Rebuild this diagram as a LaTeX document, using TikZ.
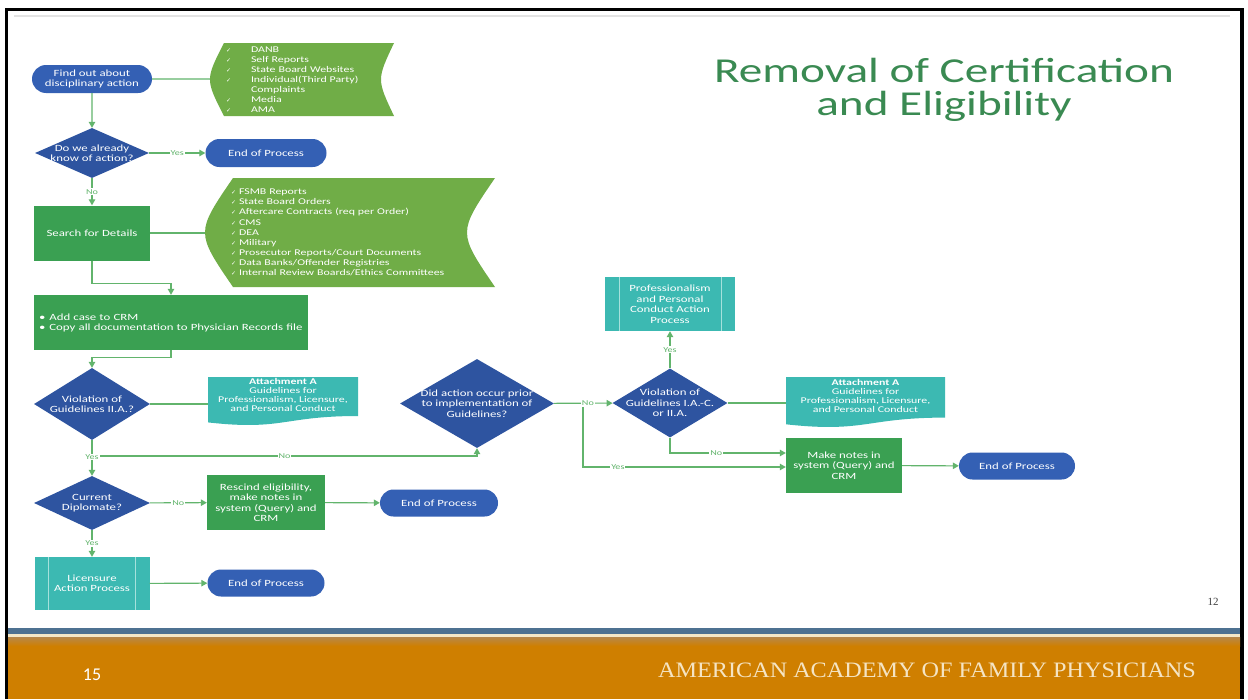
\documentclass[tikz,border=0pt]{standalone}
\usepackage{fontspec}
\setmainfont{Carlito}
\newfontfamily\nodefont{Carlito}[FakeStretch=1.35]
\newfontfamily\ttlfont{Carlito}[FakeStretch=1.35]
\newfontfamily\checkfont{DejaVu Sans}
\newfontfamily\footserif{Liberation Serif}[FakeStretch=1.1]
\newfontfamily\pagefont{Liberation Serif}
\usetikzlibrary{shapes.geometric,shapes.misc,arrows.meta}
\definecolor{dblue}{RGB}{46,84,160}
\definecolor{tblue}{RGB}{52,96,180}
\definecolor{rgreen}{RGB}{58,160,82}
\definecolor{lgreen}{RGB}{112,173,71}
\definecolor{teal1}{RGB}{60,185,178}
\definecolor{tealline}{RGB}{165,225,220}
\definecolor{cgreen}{RGB}{98,180,108}
\definecolor{titlegreen}{RGB}{58,138,82}
\definecolor{orange1}{RGB}{207,127,0}
\definecolor{brown1}{RGB}{185,135,70}
\definecolor{bandblue}{RGB}{78,113,145}
\definecolor{cream}{RGB}{245,232,200}
\definecolor{foottext}{RGB}{245,228,195}
\newcommand{\ck}{\makebox[25pt][l]{\checkfont\fontsize{6}{6}\selectfont ✓}}
\newcommand{\nock}{\makebox[25pt][l]{}}
\newcommand{\cks}{{\checkfont\fontsize{6}{6}\selectfont ✓}\hspace{3pt}}
\begin{document}
\begin{tikzpicture}[x=1pt,y=-1pt,
  txt/.style={font=\nodefont\fontsize{9.5}{10.5}\selectfont, text=white, align=center, inner sep=0pt},
  smalltxt/.style={font=\nodefont\fontsize{8.8}{9}\selectfont, text=white, align=center, inner sep=0pt},
  term/.style={txt, rounded rectangle, fill=tblue, minimum width=118, minimum height=27},
  proc/.style={txt, rectangle, fill=rgreen},
  diam/.style={diamond, fill=dblue, inner sep=0pt},
  pre/.style={txt, rectangle, fill=teal1},
  holder/.style={rectangle, inner sep=0pt},
  conn/.style={draw=cgreen, line width=1.1pt, -{Triangle[length=6pt,width=6.5pt]}},
  link/.style={draw=cgreen, line width=1.1pt},
  lab/.style={font=\nodefont\fontsize{7.5}{8}\selectfont, text=cgreen, fill=white, inner sep=1pt}]
\useasboundingbox (0,0) rectangle (1248,699);
\fill[white] (0,0) rectangle (1248,699);
% frame
\fill[black] (5,8) rectangle (1244,11);
\fill[black] (5,8) rectangle (8,699);
\fill[black] (1240,8) rectangle (1244,699);
\fill[gray!22] (14,15) rectangle (1230,17);
% footer
\fill[bandblue] (8,628) rectangle (1240,634);
\fill[cream] (8,634) rectangle (1240,637.5);
\shade[top color=brown1, bottom color=orange1] (8,637.5) rectangle (1240,646);
\fill[orange1] (8,646) rectangle (1240,699);
\node[font=\fontsize{18}{18}\selectfont, text=white, anchor=base] (pg15) at (92,680) {15};
\node[font=\footserif\fontsize{22}{22}\selectfont, text=foottext, anchor=base] (aafp) at (927,677) {AMERICAN ACADEMY OF FAMILY PHYSICIANS};
\node[font=\pagefont\fontsize{11}{11}\selectfont, text=black!75, anchor=base] (pg12) at (1213,605) {12};
% title
\node[font=\ttlfont\fontsize{35}{36}\selectfont, text=titlegreen, anchor=base] (title1) at (944,82) {Removal of Certification};
\node[font=\ttlfont\fontsize{35}{36}\selectfont, text=titlegreen, anchor=base] (title2) at (944,115) {and Eligibility};
% stored data shapes
\fill[lgreen] (224,43) -- (394,43) .. controls (376.7,79.5) .. (394,116) -- (224,116) .. controls (205.3,79.5) .. (224,43) -- cycle;
\fill[lgreen] (233,178) -- (495,178) .. controls (457.7,232.5) .. (495,287) -- (233,287) .. controls (195.7,232.5) .. (233,178) -- cycle;
% document shapes
\fill[teal1] (208,377) -- (358,377) -- (358,416) .. controls (283,416) and (283,430.8) .. (208,422.4) -- cycle;
\fill[teal1] (786,377) -- (945,377) -- (945,417.6) .. controls (865.5,417.6) and (865.5,433) .. (786,424.3) -- cycle;
% left column
\node[term, minimum width=120, minimum height=28] (find) at (92,79) {Find out about\\disciplinary action};
\node[holder, minimum width=184, minimum height=73, text width=152, font=\nodefont\fontsize{8.8}{10}\selectfont, text=white, align=left] (data1) at (302,79.5)
  {\ck DANB\\ \ck Self Reports\\ \ck State Board Websites\\ \ck Individual(Third Party)\\ \nock Complaints\\ \ck Media\\ \ck AMA};
\node[diam, minimum width=114, minimum height=50, label={[txt]center:{Do we already\\know of action?}}] (know) at (92,153) {};
\node[term, minimum width=121, minimum height=28] (end1) at (266,153) {End of Process};
\node[proc, minimum width=116, minimum height=55] (search) at (92,233) {Search for Details};
\node[holder, minimum width=290, minimum height=109, text width=238, font=\nodefont\fontsize{8.8}{10.1}\selectfont, text=white, align=left] (data2) at (350,232.5)
  {\cks FSMB Reports\\ \cks State Board Orders\\ \cks Aftercare Contracts (req per Order)\\ \cks CMS\\ \cks DEA\\ \cks Military\\ \cks Prosecutor Reports/Court Documents\\ \cks Data Banks/Offender Registries\\ \cks Internal Review Boards/Ethics Committees};
\node[proc, minimum width=274, minimum height=55, text width=264, align=left, font=\nodefont\fontsize{9.5}{10}\selectfont] (crm) at (171,322.5)
  {\textbullet\hspace{4pt}Add case to CRM\\ \textbullet\hspace{4pt}Copy all documentation to Physician Records file};
\node[diam, minimum width=116, minimum height=72, label={[txt]center:{Violation of\\Guidelines II.A.?}}] (viol1) at (92,404) {};
\node[holder, minimum width=150, minimum height=48, label={[smalltxt, yshift=6pt]center:{\textbf{Attachment A}\\Guidelines for\\Professionalism, Licensure,\\and Personal Conduct}}] (att1) at (283,401) {};
\node[diam, minimum width=116, minimum height=54, label={[txt]center:{Current\\Diplomate?}}] (diplo) at (92,503) {};
\node[proc, minimum width=118, minimum height=55] (rescind) at (266,502.5) {Rescind eligibility,\\make notes in\\system (Query) and\\CRM};
\node[term] (end2) at (439,503) {End of Process};
\node[pre, minimum width=115, minimum height=53] (lic) at (92,583.5) {Licensure\\Action Process};
\node[term, minimum width=117] (end3) at (266,583) {End of Process};
% right part
\node[diam, minimum width=154, minimum height=89, label={[txt]center:{Did action occur prior\\to implementation of\\Guidelines?}}] (did) at (477,403.5) {};
\node[diam, minimum width=115, minimum height=69, label={[txt]center:{Violation of\\Guidelines I.A.-C.\\or II.A.}}] (viol2) at (670,403) {};
\node[pre, minimum width=130, minimum height=54] (prof) at (670,304) {Professionalism\\and Personal\\Conduct Action\\Process};
\node[holder, minimum width=159, minimum height=50, label={[smalltxt, yshift=6pt]center:{\textbf{Attachment A}\\Guidelines for\\Professionalism, Licensure,\\and Personal Conduct}}] (att2) at (865.5,402) {};
\node[proc, minimum width=116, minimum height=55] (notes2) at (844,465.5) {Make notes in\\system (Query) and\\CRM};
\node[term, minimum width=116] (end4) at (1017,466) {End of Process};
% inner lines of predefined process
\draw[tealline, line width=0.8pt] ([xshift=14pt]lic.north west) -- ([xshift=14pt]lic.south west);
\draw[tealline, line width=0.8pt] ([xshift=-14pt]lic.north east) -- ([xshift=-14pt]lic.south east);
\draw[tealline, line width=0.8pt] ([xshift=15pt]prof.north west) -- ([xshift=15pt]prof.south west);
\draw[tealline, line width=0.8pt] ([xshift=-14pt]prof.north east) -- ([xshift=-14pt]prof.south east);
% connectors
\draw[link] (find) -- (find.east -| data1.west);
\draw[conn] (find) -- (know);
\draw[conn] (know) -- node[lab]{Yes} (end1);
\draw[conn] (know) -- node[lab]{No} (search);
\draw[link] (search) -- (search.east -| data2.west);
\draw[conn] (search.south) |- ([yshift=11pt]crm.north) -- (crm.north);
\draw[conn] (crm.south) |- ([yshift=10pt]viol1.north) -- (viol1.north);
\draw[link] (viol1) -- (viol1.east -| att1.west);
\coordinate (j1) at (92,456);
\draw[conn] (j1) -- node[lab]{No} (j1 -| did.south) -- (did.south);
\draw[conn] (viol1) -- node[lab, pos=0.47]{Yes} (diplo);
\draw[conn] (diplo) -- node[lab]{No} (rescind);
\draw[conn] (rescind) -- (end2);
\draw[conn] (diplo) -- node[lab]{Yes} (lic);
\draw[conn] (lic) -- (end3);
\coordinate (j2) at (583,403);
\draw[conn] (j2) |- node[lab, pos=0.586]{Yes} (notes2.west |- 0,467);
\draw[conn] (did) -- node[lab, pos=0.58]{No} (viol2);
\draw[conn] (viol2) -- node[lab]{Yes} (prof);
\draw[conn] (viol2.south) |- node[lab, pos=0.7]{No} (notes2.west |- 0,453);
\draw[link] (viol2) -- (viol2.east -| att2.west);
\draw[conn] (notes2) -- (end4);
\end{tikzpicture}
\end{document}
